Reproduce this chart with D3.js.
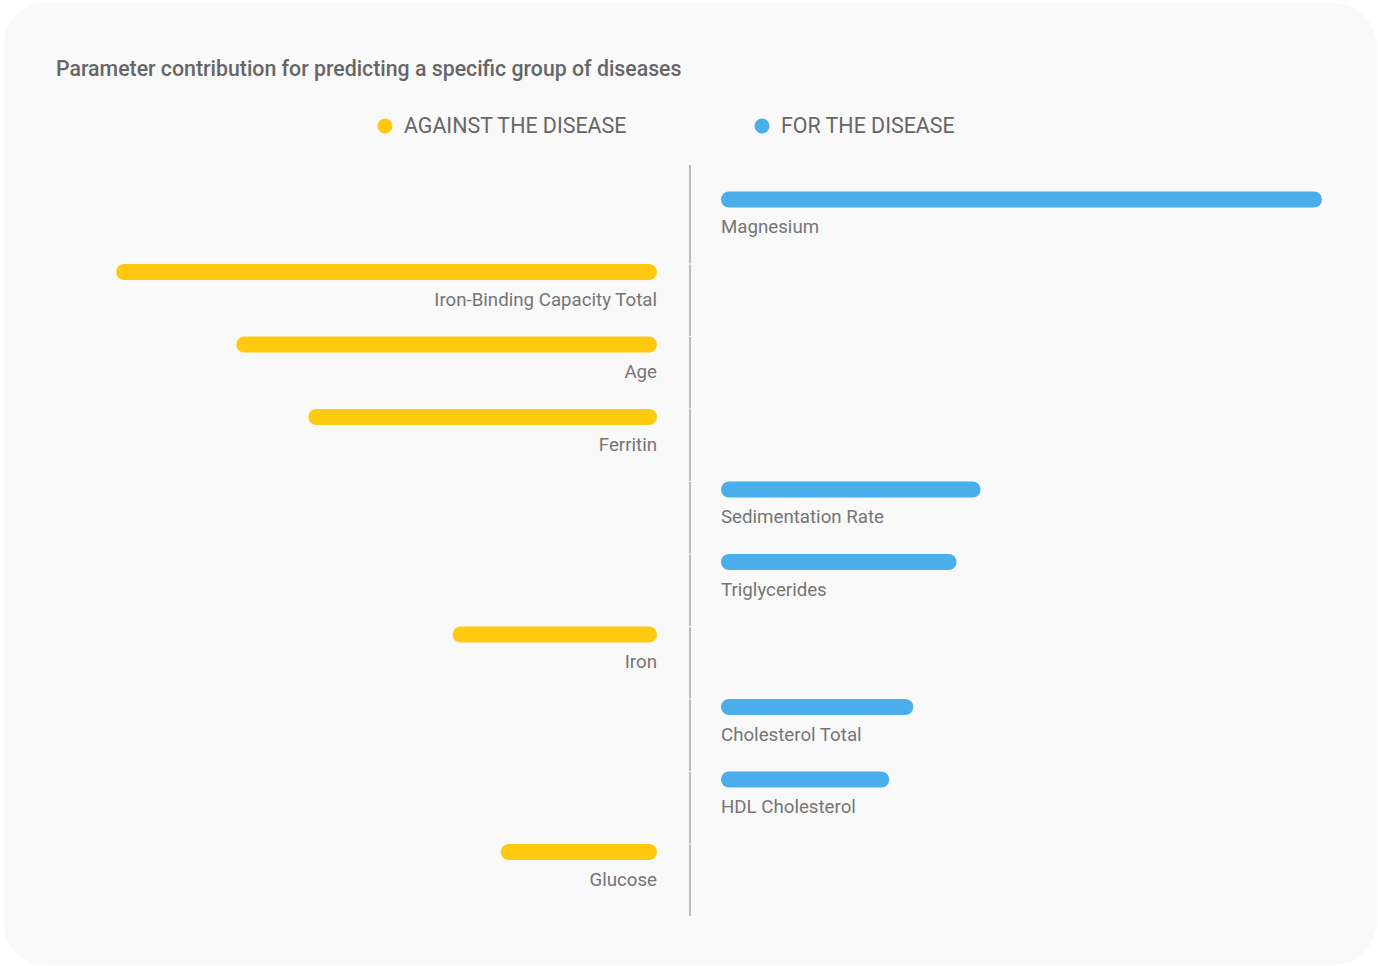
<!DOCTYPE html>
<html>
<head>
    <meta charset="utf-8">
    <title>Parameter contribution</title>
    <script src="https://cdn.jsdelivr.net/npm/d3@7"></script>
    <style>
        html, body { margin: 0; padding: 0; background: #ffffff; }
        svg { display: block; font-family: Roboto, "Open Sans", sans-serif; }
    </style>
</head>
<body>
<script type="text/javascript">
    // data
    var parameters = ["Magnesium", "Iron-Binding Capacity Total", "Age", "Ferritin",
        "Sedimentation Rate", "Triglycerides", "Iron", "Cholesterol Total",
        "HDL Cholesterol", "Glucose"];
    var contributions = [0.250, -0.225, -0.175, -0.145, 0.108, 0.098, -0.085, 0.080, 0.070, -0.065];
    var seriesNames = ["AGAINST THE DISEASE", "FOR THE DISEASE"];
    var seriesColors = ["#ffc90f", "#4aaeea"];

    var _width = 1378, _height = 966,
        _axisX = 690, _gap = 32,
        _barH = 16;

    var rows = parameters.map(function (p, i) {
        return {name: p, value: contributions[i]};
    });

    var svg = d3.select("body").append("svg")
        .attr("width", _width)
        .attr("height", _height);

    // card
    svg.append("rect")
        .attr("x", 3).attr("y", 3)
        .attr("width", 1374).attr("height", 962)
        .attr("rx", 44).attr("ry", 44)
        .attr("fill", "#f9f9f9");

    // title
    svg.append("text")
        .attr("x", 56).attr("y", 76)
        .attr("fill", "#666666")
        .style("font-size", "21.3px")
        .style("font-weight", 500)
        .text("Parameter contribution for predicting a specific group of diseases");

    // legend
    var legend = svg.append("g").selectAll("g")
        .data(seriesNames).enter().append("g")
        .attr("transform", function (d, i) {
            return "translate(" + (i ? 762 : 385) + ",126)";
        });
    legend.append("circle")
        .attr("r", 7.5)
        .attr("fill", function (d, i) { return seriesColors[i]; });
    legend.append("text")
        .attr("x", 19).attr("y", 7)
        .attr("fill", "#666666")
        .style("font-size", "21.4px")
        .text(function (d) { return d; });

    // scales
    var x = d3.scaleLinear().domain([0, 0.25]).range([0, 601]);
    var y = d3.scaleBand().domain(parameters).range([191.5, 916.5]);

    // center divider, one segment per row
    svg.append("g").selectAll("line")
        .data(rows).enter().append("line")
        .attr("x1", _axisX).attr("x2", _axisX)
        .attr("y1", function (d, i) { return i === 0 ? 165 : y(d.name) + 0.5; })
        .attr("y2", function (d) { return y(d.name) + y.bandwidth() - 0.5; })
        .attr("stroke", "#bdbdbd")
        .attr("stroke-width", 2);

    var body = svg.append("g");
    var row = body.selectAll("g.row")
        .data(rows).enter().append("g")
        .attr("class", "row")
        .attr("transform", function (d) { return "translate(0," + (y(d.name) + 8) + ")"; });

    row.append("rect")
        .attr("x", function (d) {
            return d.value >= 0 ? _axisX + _gap - 1 : _axisX - _gap - 1 - x(-d.value);
        })
        .attr("y", -_barH / 2)
        .attr("width", function (d) { return x(Math.abs(d.value)); })
        .attr("height", _barH)
        .attr("rx", _barH / 2)
        .attr("fill", function (d) { return d.value >= 0 ? seriesColors[1] : seriesColors[0]; });

    row.append("text")
        .attr("x", function (d) { return d.value >= 0 ? _axisX + _gap - 1 : _axisX - _gap - 1; })
        .attr("y", 33.5)
        .attr("text-anchor", function (d) { return d.value >= 0 ? "start" : "end"; })
        .attr("fill", "#757575")
        .style("font-size", "18.7px")
        .text(function (d) { return d.name; });
</script>
</body>
</html>
